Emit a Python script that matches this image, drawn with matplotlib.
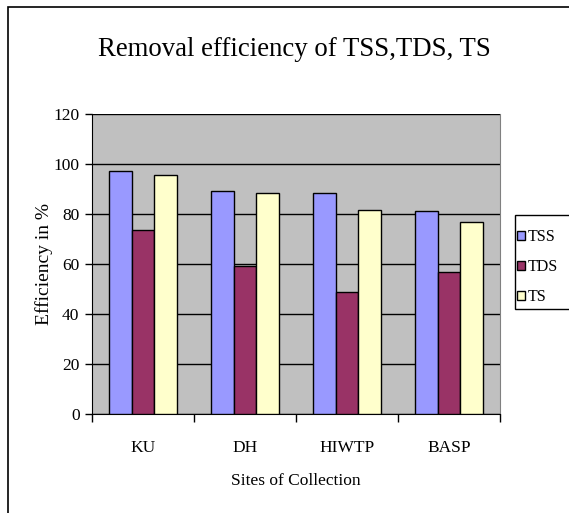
import matplotlib
matplotlib.use("Agg")
import matplotlib.pyplot as plt
import numpy as np
from matplotlib.patches import Rectangle

sites = ["KU", "DH", "HIWTP", "BASP"]
tss = [97.4, 89.3, 88.6, 81.2]
tds = [73.8, 59.4, 48.9, 57.0]
ts = [95.7, 88.6, 81.7, 77.0]
series_names = ["TSS", "TDS", "TS"]
colors = ["#9999FF", "#993366", "#FFFFCC"]
yticks = [0, 20, 40, 60, 80, 100, 120]

plt.rcParams['font.family'] = ['Liberation Serif', 'DejaVu Serif']

W, H = 569, 513
fig = plt.figure(figsize=(W / 100, H / 100), dpi=100)

# outer chart border (right and bottom edges lie outside the picture)
fig.patches.append(Rectangle((8 / W, -0.1), 1.2, 1.1 - 7 / H,
                             transform=fig.transFigure, fill=False,
                             edgecolor='black', linewidth=1.2))

ax = fig.add_axes([92 / W, 1 - 414 / H, (500 - 92) / W, 300 / H])
ax.set_facecolor('#C0C0C0')

x = np.arange(len(sites))
bw = 0.223
handles = []
for i, (vals, c, n) in enumerate(zip([tss, tds, ts], colors, series_names)):
    b = ax.bar(x + (i - 1) * bw, vals, bw, color=c, edgecolor='black',
               linewidth=1.0, label=n, zorder=3)
    handles.append(b)

ax.set_ylim(0, 120)
ax.set_xlim(-0.5, len(sites) - 0.5)
ax.set_yticks(yticks)
ax.set_yticklabels([str(v) for v in yticks], fontsize=12.5)
ax.yaxis.grid(True, color='black', linewidth=1.0, zorder=1)
ax.set_axisbelow(True)

ax.set_xticks(x)
ax.set_xticklabels(sites, fontsize=12.5)
ax.tick_params(axis='x', which='major', length=0, pad=19)
ax.set_xticks(np.arange(len(sites) + 1) - 0.5, minor=True)
ax.tick_params(axis='x', which='minor', length=6, width=1, direction='out')
ax.tick_params(axis='y', length=5, width=1, direction='out', pad=4)

ax.spines['top'].set_visible(False)
ax.spines['right'].set_color('#808080')
ax.spines['left'].set_color('black')
ax.spines['bottom'].set_color('black')

ax.set_xlabel("Sites of Collection", fontsize=12.5, labelpad=12)
ax.set_ylabel("Efficiency in %", fontsize=14, labelpad=0)

fig.text(294 / W, 1 - 50 / H, "Removal efficiency of TSS,TDS, TS",
         ha='center', va='center', fontsize=19.3)

# legend frame (extends beyond the right edge, as in the reference)
fig.patches.append(Rectangle((515 / W, 1 - 309 / H), 0.2, 94 / H,
                             transform=fig.transFigure, facecolor='white',
                             edgecolor='black', linewidth=1.0))
leg = fig.legend(handles=handles, labels=series_names, loc='upper left',
                 bbox_to_anchor=(517 / W, 1 - 229 / H),
                 frameon=False, fontsize=11.5, handlelength=0.5,
                 handleheight=0.5, handletextpad=0.15, labelspacing=0.88,
                 borderpad=0, borderaxespad=0)

fig.savefig("out.png", dpi=100)
